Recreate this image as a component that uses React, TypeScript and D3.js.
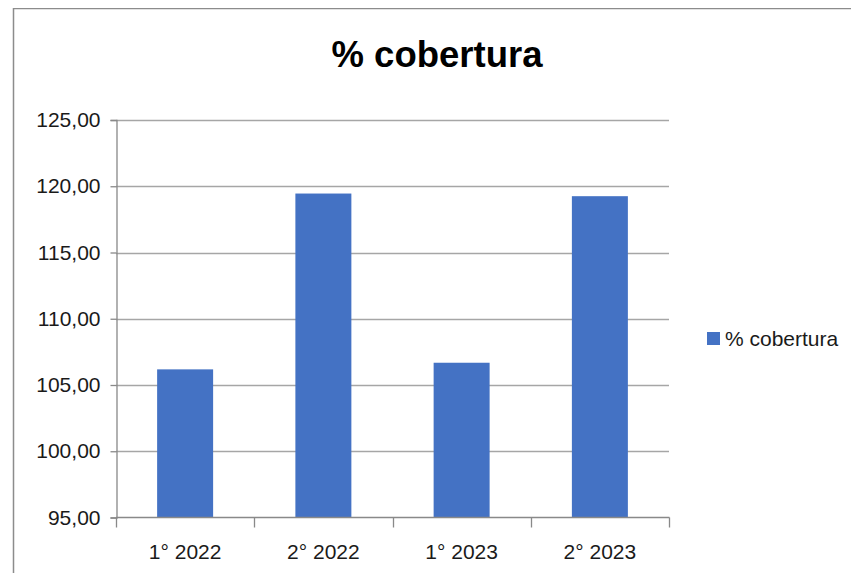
// App.tsx
// bar chart "% cobertura" per semester, drawn with d3 through a ref
import * as d3 from 'd3';
import React, { useRef, useEffect } from 'react';

const categories = ['1° 2022', '2° 2022', '1° 2023', '2° 2023'];
const cobertura = [106.18, 119.45, 106.68, 119.25];
const yTicks = [95, 100, 105, 110, 115, 120, 125];
const seriesName = '% cobertura';
const title = '% cobertura';

const width = 843;
const height = 565;
// svg sits at (8,8) on the page because of the body margin
const plot = { left: 108, right: 661, top: 112, bottom: 509.5 };

const labelFont = '"Liberation Sans", Arial, sans-serif';

function CoberturaChart() {
    const ref = useRef<SVGSVGElement>(null);

    useEffect(() => {
        const svg = d3.select(ref.current);
        svg.selectAll('*').remove();

        // chart frame (right and bottom edges fall outside the window)
        svg.append('rect')
            .attr('x', 5.5)
            .attr('y', 0.5)
            .attr('width', 1000)
            .attr('height', 1000)
            .attr('fill', 'white')
            .attr('stroke', '#8c8c8c')
            .attr('stroke-width', 1.5);

        var xScale = d3.scaleBand()
            .domain(categories)
            .range([plot.left, plot.right])
            .paddingInner(0.595)
            .paddingOuter(0.2975);
        var yScale = d3.scaleLinear()
            .domain([95, 125])
            .range([plot.bottom, plot.top]);

        // title
        svg.append('text')
            .attr('x', 429)
            .attr('y', 59)
            .attr('text-anchor', 'middle')
            .attr('font-family', '"Liberation Sans", Arial, sans-serif')
            .attr('font-weight', 'bold')
            .attr('font-size', 36.5)
            .attr('fill', '#000')
            .text(title);

        // gridlines
        svg.append('g')
            .selectAll('line')
            .data(yTicks.slice(1))
            .enter()
            .append('line')
            .attr('x1', plot.left)
            .attr('x2', plot.right)
            .attr('y1', (d) => Math.round(yScale(d)) + 0.5)
            .attr('y2', (d) => Math.round(yScale(d)) + 0.5)
            .attr('stroke', '#a6a6a6')
            .attr('stroke-width', 1.3);

        // bars
        svg.append('g')
            .selectAll('rect')
            .data(cobertura)
            .enter()
            .append('rect')
            .attr('x', (d, i) => xScale(categories[i]) as number)
            .attr('y', (d) => yScale(d))
            .attr('width', xScale.bandwidth())
            .attr('height', (d) => plot.bottom - yScale(d))
            .attr('fill', '#4472c4');

        // y axis
        var yAxis = svg.append('g')
            .attr('transform', 'translate(' + (plot.left + 0.5) + ',0)')
            .call(d3.axisLeft(yScale)
                .tickValues(yTicks)
                .tickSize(6)
                .tickPadding(10)
                .tickFormat((d) => d3.format('.2f')(d as number).replace('.', ',')));
        yAxis.select('.domain').attr('stroke', '#898989').attr('stroke-width', 1.3);
        yAxis.selectAll('.tick line').attr('stroke', '#898989').attr('stroke-width', 1.3);
        yAxis.selectAll('.tick text')
            .attr('font-family', labelFont)
            .attr('font-size', 21)
            .attr('fill', '#1a1a1a');

        // x axis: ticks between categories, like a spreadsheet chart
        var xg = svg.append('g');
        xg.append('line')
            .attr('x1', plot.left)
            .attr('x2', plot.right + 0.5)
            .attr('y1', plot.bottom)
            .attr('y2', plot.bottom)
            .attr('stroke', '#898989')
            .attr('stroke-width', 1.3);
        var step = xScale.step();
        xg.selectAll('.xtick')
            .data(d3.range(categories.length + 1))
            .enter()
            .append('line')
            .attr('class', 'xtick')
            .attr('x1', (d) => Math.round(plot.left + d * step) + 0.5)
            .attr('x2', (d) => Math.round(plot.left + d * step) + 0.5)
            .attr('y1', plot.bottom)
            .attr('y2', plot.bottom + 10)
            .attr('stroke', '#898989')
            .attr('stroke-width', 1.3);
        xg.selectAll('.xlabel')
            .data(categories)
            .enter()
            .append('text')
            .attr('class', 'xlabel')
            .attr('x', (d) => (xScale(d) as number) + xScale.bandwidth() / 2)
            .attr('y', 551)
            .attr('text-anchor', 'middle')
            .attr('font-family', labelFont)
            .attr('font-size', 21)
            .attr('fill', '#1a1a1a')
            .text((d) => d);

        // legend
        var legend = svg.append('g').attr('transform', 'translate(699,324)');
        legend.append('rect')
            .attr('x', 0)
            .attr('y', 0)
            .attr('width', 13)
            .attr('height', 13)
            .attr('fill', '#4472c4');
        legend.append('text')
            .attr('x', 18)
            .attr('y', 14)
            .attr('font-family', labelFont)
            .attr('font-size', 21)
            .attr('fill', '#1a1a1a')
            .text(seriesName);
    }, []);

    return (
        <svg ref={ref} width={width} height={height} style={{ display: 'block' }}>
        </svg>
    );
}

export default function App() {
    return <CoberturaChart />;
}
